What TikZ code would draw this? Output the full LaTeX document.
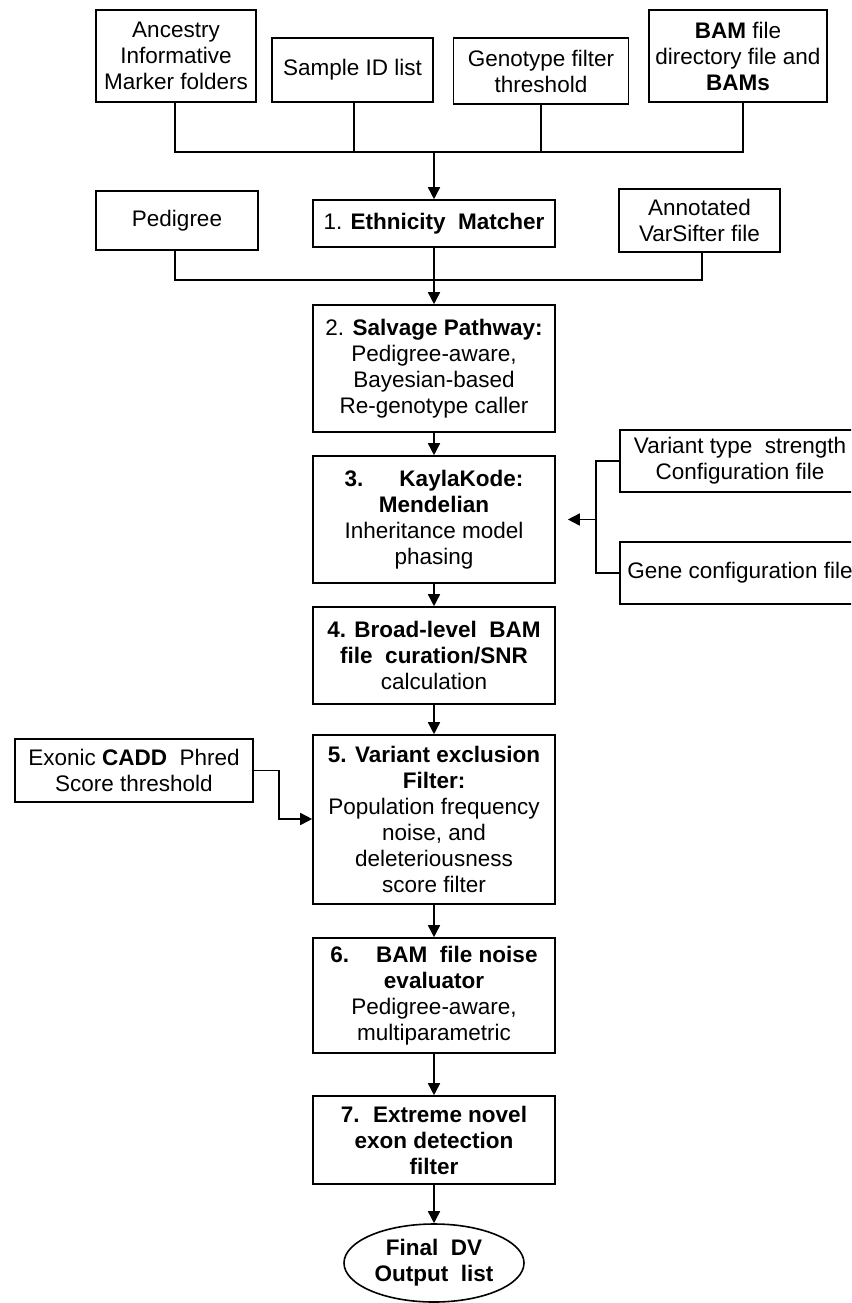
\documentclass[tikz,border=0pt]{standalone}
\usepackage{fontspec}
\setmainfont{Liberation Sans}
\usetikzlibrary{arrows.meta,shapes.geometric}
\tikzset{
  box/.style={draw, line width=1.6pt, rectangle, inner sep=0pt, align=center,
    font=\fontsize{22.5}{26}\selectfont},
  oval/.style={draw, line width=1.6pt, ellipse, inner sep=0pt, align=center,
    font=\fontsize{22.5}{26}\selectfont\bfseries},
  conn/.style={line width=1.6pt},
  arr/.style={line width=1.6pt, -{Triangle[length=12pt,width=12pt]}}
}
\begin{document}
\begin{tikzpicture}[x=1pt,y=-1pt]
\clip (0,0) rectangle (851,1303);
\fill[white] (0,0) rectangle (851,1303);
% top inputs
\node[box, minimum width=160pt, minimum height=92pt] (anc) at (176,56) {Ancestry\\Informative\\Marker folders};
\node[box, minimum width=161pt, minimum height=64pt] (sid) at (352.5,70) {Sample ID list};
\node[box, minimum width=175pt, minimum height=66pt] (geno) at (541,71) {Genotype filter\\threshold};
\node[box, minimum width=178pt, minimum height=92pt] (bam) at (738,56) {\textbf{BAM} file\\directory file and\\\textbf{BAMs}};
% row 2
\node[box, minimum width=162pt, minimum height=59pt] (ped) at (177,220.5) {Pedigree};
\node[box, minimum width=242pt, minimum height=47pt] (eth) at (434,223.5) {1. \textbf{Ethnicity\ \ Matcher}};
\node[box, minimum width=161pt, minimum height=63pt] (ann) at (699.5,220.5) {Annotated\\VarSifter file};
% main column
\node[box, minimum width=242pt, minimum height=127pt] (s2) at (434,368.5) {2. \textbf{Salvage Pathway:}\\Pedigree-aware,\\Bayesian-based\\Re-genotype caller};
\node[box, minimum width=242pt, minimum height=127pt] (s3) at (434,519.5) {\textbf{3.\hspace{1.6em}KaylaKode:}\\\textbf{Mendelian}\\Inheritance model\\phasing};
\node[box, minimum width=242pt, minimum height=97pt] (s4) at (434,655.5) {\textbf{4. Broad-level\ \ BAM}\\\textbf{file\ \ curation/SNR}\\calculation};
\node[box, minimum width=242pt, minimum height=169pt] (s5) at (434,819.5) {\textbf{5. Variant exclusion}\\\textbf{Filter:}\\Population frequency\\noise, and\\deleteriousness\\score filter};
\node[box, minimum width=242pt, minimum height=115pt] (s6) at (434,995.5) {\textbf{6.\hspace{1.2em}BAM\ \ file noise}\\\textbf{evaluator}\\Pedigree-aware,\\multiparametric};
\node[box, minimum width=242pt, minimum height=88pt] (s7) at (434,1140) {\textbf{7.\hspace{0.6em}Extreme novel}\\\textbf{exon detection}\\\textbf{filter}};
\node[oval, minimum width=180pt, minimum height=78pt] (fin) at (434,1263) {Final\ \ DV\\Output\ \ list};
% side inputs
\node[box, minimum width=240pt, minimum height=62pt] (vts) at (740,461) {Variant type\ \ strength\\Configuration file};
\node[box, minimum width=240pt, minimum height=62pt] (gene) at (740,573) {Gene configuration file};
\node[box, minimum width=238pt, minimum height=63pt] (exo) at (134,770.5) {Exonic \textbf{CADD}\ \ Phred\\Score threshold};
% bus 1
\coordinate (b1) at (434,152);
\draw[conn] ([xshift=-1pt]anc.south) -- ([xshift=-1pt]anc.south |- b1) -- ([xshift=5pt]bam.south |- b1) -- ([xshift=5pt]bam.south);
\draw[conn] ([xshift=1.5pt]sid.south) -- ([xshift=1.5pt]sid.south |- b1);
\draw[conn] (geno.south) -- (geno.south |- b1);
\draw[arr] (b1) -- (eth.north);
% bus 2
\coordinate (b2) at (434,280);
\draw[conn] ([xshift=-2pt]ped.south) -- ([xshift=-2pt]ped.south |- b2) -- ([xshift=2.5pt]ann.south |- b2) -- ([xshift=2.5pt]ann.south);
\draw[arr] (eth.south) -- (s2.north);
% main flow
\draw[arr] (s2.south) -- (s3.north);
\draw[arr] (s3.south) -- (s4.north);
\draw[arr] (s4.south) -- (s5.north);
\draw[arr] (s5.south) -- (s6.north);
\draw[arr] (s6.south) -- (s7.north);
\draw[arr] (s7.south) -- (fin.north);
% bracket right
\coordinate (br) at (596,519.5);
\draw[conn] (vts.west) -| (br) |- (gene.west);
\draw[arr] (br) -- ([xshift=12pt]s3.east);
% exonic
\coordinate (ej) at (279,819);
\draw[arr] (exo.east) -| (ej) -- (s5.west |- ej);
\end{tikzpicture}
\end{document}
